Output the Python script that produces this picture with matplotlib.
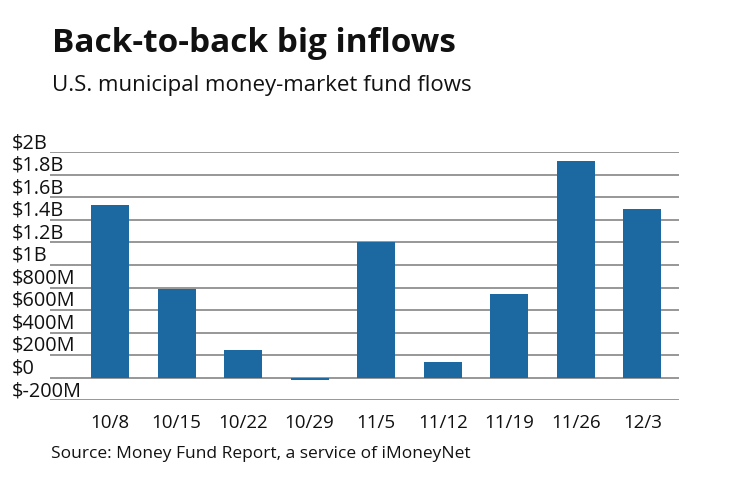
import matplotlib
matplotlib.use("Agg")
import matplotlib.pyplot as plt
from matplotlib.transforms import blended_transform_factory

# ── Data ──────────────────────────────────────────────────────
weeks  = ["10/8", "10/15", "10/22", "10/29", "11/5", "11/12", "11/19", "11/26", "12/3"]
flows  = [1.53, 0.785, 0.25, -0.018, 1.20, 0.136, 0.743, 1.926, 1.498]   # $ billions
ticks  = [-0.2, 0.0, 0.2, 0.4, 0.6, 0.8, 1.0, 1.2, 1.4, 1.6, 1.8, 2.0]
tick_labels = ["$-200M", "$0", "$200M", "$400M", "$600M", "$800M",
               "$1B", "$1.2B", "$1.4B", "$1.6B", "$1.8B", "$2B"]

BAR_COLOR  = "#1b69a0"
GRID_COLOR = "#858585"
FONT       = "Open Sans"

W, H = 740, 482
fig = plt.figure(figsize=(W / 100, H / 100), dpi=100)
fig.patch.set_facecolor("white")

# axes placed in pixel terms
left, right = 50, 679
top, bottom = 152.3, 400.3
ax = fig.add_axes([left / W, 1 - bottom / H, (right - left) / W, (bottom - top) / H])

x = list(range(len(weeks)))
ax.bar(x, flows, width=0.57, color=BAR_COLOR, zorder=3)

ax.set_ylim(-0.2, 2.0)
ax.set_xlim(-0.902, 8.552)

for t in ticks:
    ax.axhline(t, color=GRID_COLOR, linewidth=1.2, zorder=1)

ax.set_yticks([])
ax.set_xticks([])
for spine in ax.spines.values():
    spine.set_visible(False)

# y labels sit just above their gridline, left aligned
trans = blended_transform_factory(fig.transFigure, ax.transData)
px_per_unit = (bottom - top) / 2.2
for t, lbl in zip(ticks, tick_labels):
    ax.text(12 / W, t + 4.3 / px_per_unit, lbl, transform=trans,
            ha="left", va="baseline", fontsize=14.3, family=FONT, color="#111111")

# x labels
for xi, lbl in zip(x, weeks):
    ax.text(xi, 1 - 428.3 / H, lbl, transform=blended_transform_factory(ax.transData, fig.transFigure),
            ha="center", va="baseline", fontsize=13.5, family=FONT, color="#111111")

fig.text(52 / W, 1 - 52 / H, "Back-to-back big inflows", ha="left", va="baseline",
         fontsize=24, fontweight="bold", family=FONT, color="#111111")
fig.text(52 / W, 1 - 91 / H, "U.S. municipal money-market fund flows", ha="left", va="baseline",
         fontsize=16, family=FONT, color="#111111")
fig.text(51 / W, 1 - 458 / H, "Source: Money Fund Report, a service of iMoneyNet", ha="left",
         va="baseline", fontsize=12.5, family=FONT, color="#111111")

fig.savefig("out.png", dpi=100)
